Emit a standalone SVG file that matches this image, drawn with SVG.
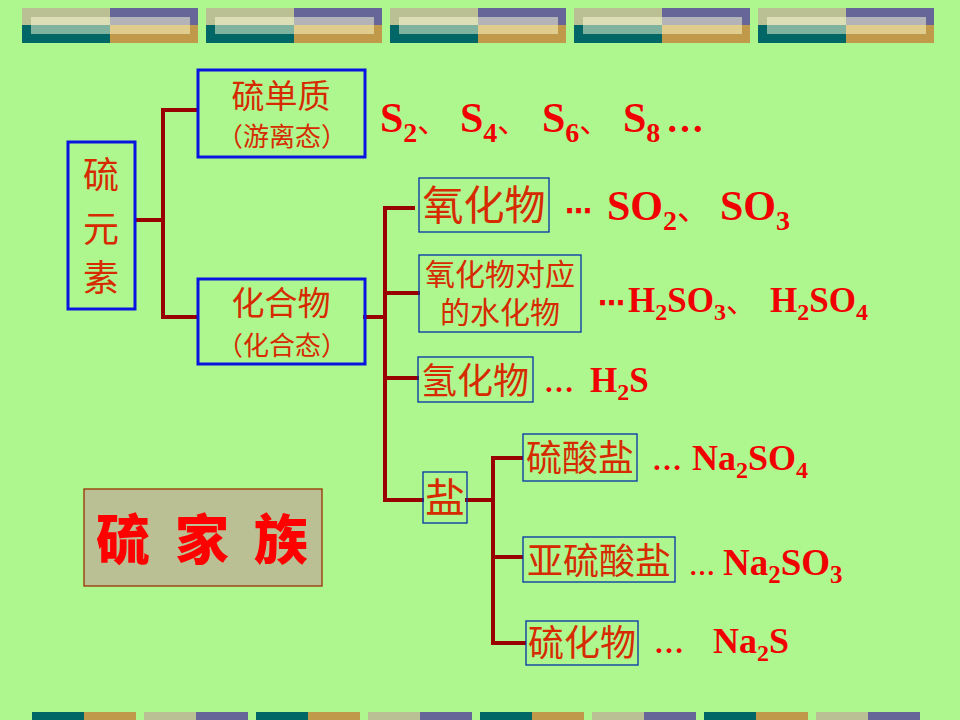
<svg xmlns="http://www.w3.org/2000/svg" width="960" height="720" viewBox="0 0 960 720">
<style>
.bg{fill:#AEF78F}
.ln{stroke:#990000;stroke-width:4;fill:none;stroke-linecap:square}
.bx3{fill:none;stroke:#0A14E0;stroke-width:3}
.bx1{fill:none;stroke:#0033AA;stroke-width:1.3}
.cn{font-family:"Noto Sans CJK SC",sans-serif;fill:#D62B00;text-anchor:middle}
.fm{font-family:"Liberation Serif","Noto Sans CJK SC",serif;font-weight:bold;fill:#F00000}
.ck{font-family:"Noto Sans CJK SC",sans-serif;font-weight:normal}
.md{font-family:"DejaVu Sans",sans-serif;font-weight:bold}
</style>
<defs>
<g id="topblk">
<rect x="0" y="0" width="88" height="17" fill="#BBBF94"/>
<rect x="0" y="17" width="88" height="18" fill="#006666"/>
<rect x="88" y="0" width="88" height="17" fill="#666699"/>
<rect x="88" y="17" width="88" height="18" fill="#C09A4A"/>
<rect x="9" y="9" width="79" height="8" fill="#DCDFB5"/>
<rect x="9" y="17" width="79" height="9" fill="#7FB39F"/>
<rect x="88" y="9" width="80" height="8" fill="#B3B3B8"/>
<rect x="88" y="17" width="80" height="9" fill="#E0CD8D"/>
</g>
<g id="botA"><rect x="0" y="0" width="52" height="8" fill="#006666"/><rect x="52" y="0" width="52" height="8" fill="#C09A4A"/></g>
<g id="botB"><rect x="0" y="0" width="52" height="8" fill="#BBBF94"/><rect x="52" y="0" width="52" height="8" fill="#666699"/></g>
</defs>
<rect class="bg" x="0" y="0" width="960" height="720"/>
<g id="topbar">
<use href="#topblk" x="22" y="8"/><use href="#topblk" x="206" y="8"/><use href="#topblk" x="390" y="8"/><use href="#topblk" x="574" y="8"/><use href="#topblk" x="758" y="8"/>
</g>
<g id="bottombar">
<use href="#botA" x="32" y="712"/><use href="#botB" x="144" y="712"/><use href="#botA" x="256" y="712"/><use href="#botB" x="368" y="712"/><use href="#botA" x="480" y="712"/><use href="#botB" x="592" y="712"/><use href="#botA" x="704" y="712"/><use href="#botB" x="816" y="712"/>
</g>
<g id="connectors">
<path class="ln" d="M137,220 H163 M163,110 V317 M163,110 H197 M163,317 H197"/>
<path class="ln" d="M365,317 H385 M385,208 V500 M385,208 H413 M385,293 H418 M385,378 H417 M385,500 H422"/>
<path class="ln" d="M467,500 H493 M493,458 V643 M493,458 H521 M493,557 H521 M493,643 H524"/>
</g>
<g id="n-sulfur-element">
<rect class="bx3" x="68" y="142" width="67" height="167"/>
<text class="cn" font-size="36" x="101" y="188">硫</text>
<text class="cn" font-size="36" x="101" y="242">元</text>
<text class="cn" font-size="36" x="101" y="291">素</text>
</g>
<g id="n-elemental">
<rect class="bx3" x="198" y="70" width="167" height="87"/>
<text class="cn" font-size="33" x="281" y="108">硫单质</text>
<text class="cn" font-size="26" x="282" y="146">（游离态）</text>
</g>
<g id="n-compound">
<rect class="bx3" x="198" y="279" width="167" height="85"/>
<text class="cn" font-size="33" x="281" y="315">化合物</text>
<text class="cn" font-size="26" x="282" y="355">（化合态）</text>
</g>
<g id="n-elemental-forms">
<text class="fm" font-size="42" y="132"><tspan x="380">S</tspan><tspan font-size="28" dy="10">2</tspan><tspan class="ck" font-size="30" dy="-10">、</tspan><tspan x="460">S</tspan><tspan font-size="28" dy="10">4</tspan><tspan class="ck" font-size="30" dy="-10">、</tspan><tspan x="542">S</tspan><tspan font-size="28" dy="10">6</tspan><tspan class="ck" font-size="30" dy="-10">、</tspan><tspan x="623">S</tspan><tspan font-size="28" dy="10">8</tspan><tspan dy="-10" x="666" font-size="38">…</tspan></text>
</g>
<g id="n-oxide">
<rect class="bx1" x="419" y="178" width="130" height="54"/>
<text class="cn" font-size="41" x="484" y="220">氧化物</text>
<text class="fm" font-size="42" y="220"><tspan class="md" x="565" font-size="27">⋯</tspan><tspan x="607">SO</tspan><tspan font-size="28" dy="10">2</tspan><tspan class="ck" font-size="32" dy="-10">、</tspan><tspan x="720">SO</tspan><tspan font-size="28" dy="10">3</tspan></text>
</g>
<g id="n-hydrate">
<rect class="bx1" x="419" y="255" width="162" height="77"/>
<text class="cn" font-size="30"><tspan x="500" y="285">氧化物对应</tspan><tspan x="500" y="323">的水化物</tspan></text>
<text class="fm" font-size="35" y="312"><tspan class="md" x="598" font-size="27">⋯</tspan><tspan x="628">H</tspan><tspan font-size="24" dy="8">2</tspan><tspan dy="-8">SO</tspan><tspan font-size="24" dy="8">3</tspan><tspan class="ck" font-size="30" dy="-8">、</tspan><tspan x="770">H</tspan><tspan font-size="24" dy="8">2</tspan><tspan dy="-8">SO</tspan><tspan font-size="24" dy="8">4</tspan></text>
</g>
<g id="n-hydride">
<rect class="bx1" x="418" y="357" width="115" height="45"/>
<text class="cn" font-size="36" x="475" y="394">氢化物</text>
<text class="fm" font-size="35" y="392"><tspan x="544" font-size="30">…</tspan><tspan x="590">H</tspan><tspan font-size="24" dy="8">2</tspan><tspan dy="-8">S</tspan></text>
</g>
<g id="n-salt">
<rect class="bx1" x="423" y="472" width="44" height="51"/>
<text class="cn" font-size="40" x="445" y="512">盐</text>
</g>
<g id="n-sulfate">
<rect class="bx1" x="523" y="434" width="114" height="47"/>
<text class="cn" font-size="36" x="580" y="471">硫酸盐</text>
<text class="fm" font-size="36" y="470"><tspan x="652" font-size="30">…</tspan><tspan x="692">Na</tspan><tspan font-size="24" dy="8">2</tspan><tspan dy="-8">SO</tspan><tspan font-size="24" dy="8">4</tspan></text>
</g>
<g id="n-sulfite">
<rect class="bx1" x="523" y="537" width="152" height="45"/>
<text class="cn" font-size="36" x="599" y="574">亚硫酸盐</text>
<text class="fm" font-size="37" y="575"><tspan x="689" font-size="26">…</tspan><tspan x="723">Na</tspan><tspan font-size="25" dy="8">2</tspan><tspan dy="-8">SO</tspan><tspan font-size="25" dy="8">3</tspan></text>
</g>
<g id="n-sulfide">
<rect class="bx1" x="526" y="621" width="112" height="44"/>
<text class="cn" font-size="36" x="582" y="656">硫化物</text>
<text class="fm" font-size="36" y="653"><tspan x="654" font-size="30">…</tspan><tspan x="713">Na</tspan><tspan font-size="24" dy="8">2</tspan><tspan dy="-8">S</tspan></text>
</g>
<g id="n-title">
<rect x="84" y="489" width="238" height="97" fill="#BBBF94" stroke="#993300" stroke-width="1.3"/>
<text x="96" y="560" font-family="Noto Sans CJK SC,sans-serif" font-weight="900" font-size="54" fill="#FF0000" textLength="212" lengthAdjust="spacing">硫家族</text>
</g>
</svg>
